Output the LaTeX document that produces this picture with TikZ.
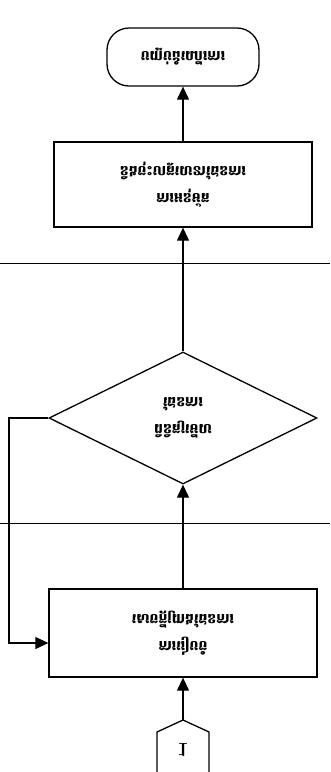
\documentclass[tikz,border=0pt]{standalone}
\usepackage{fontspec}
\newfontfamily\khmer[Script=Khmer]{Battambang}
\usetikzlibrary{shapes.geometric,arrows.meta}

\begin{document}
\begin{tikzpicture}[x=1pt,y=1pt,yscale=-1,
    flow/.style={draw,line width=1.2pt,-{Triangle[length=13pt,width=12pt]}}]

  \useasboundingbox (0,0) rectangle (330,772);
  \clip (0,0) rectangle (330,772);

  % lane lines
  \draw[line width=0.8pt] (0,263) -- (330,263);
  \draw[line width=0.8pt] (0,523) -- (330,523);

  \begin{scope}[every node/.style={draw,line width=1.3pt,align=center,transform shape,
      font=\khmer\bfseries\fontsize{14}{27}\selectfont}]
    \node[rounded corners=22pt,minimum width=152pt,minimum height=58pt] (end) at (183,57) {បញ្ចប់ដំណើរការ};
    \node[minimum width=258pt,minimum height=85pt] (plan) at (183,184.5) {ការអនុម័ត\\និងចុះហត្ថលេខាផែនការ};
    \node[diamond,minimum width=268pt,minimum height=132pt,inner sep=0pt] (check) at (183,418) {ពិនិត្យមើល\\ផែនការ};
    \node[minimum width=268pt,minimum height=88pt] (draft) at (183,633) {ការរៀបចំ\\សេចក្ដីព្រាងផែនការ};
  \end{scope}

  % off-page connector
  \node[transform shape,font=\bfseries\fontsize{20}{22}\selectfont] (one) at (183,750) {1};
  \draw[line width=1.3pt] (157,790) -- (157,732) -- (183,720) -- (209,732) -- (209,790);
  \coordinate (con) at (183,720);
  \coordinate (loop) at (9,643);

  \draw[flow] (con) -- (draft);
  \draw[flow] (draft) -- (check);
  \draw[flow] (check) -- (plan);
  \draw[flow] (plan) -- (end);
  \draw[flow] (check.west) -| (loop) -- (loop -| draft.west);

\end{tikzpicture}
\end{document}
